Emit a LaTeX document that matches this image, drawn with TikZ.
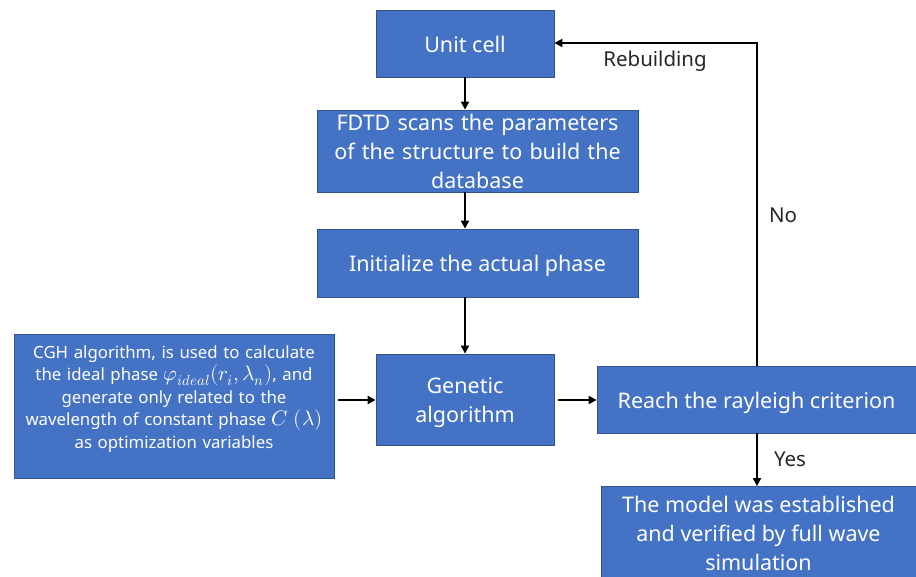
\documentclass[tikz,border=0pt]{standalone}
\usepackage{unicode-math}
\setmainfont{Noto Sans}
\setmathfont[Scale=1.25]{Latin Modern Math}
\usetikzlibrary{arrows.meta}
\newcommand{\lowertext}[2][3pt]{\raisebox{-#1}[\height][\depth]{\begin{tabular}{@{}c@{}}#2\end{tabular}}}
\begin{document}
\begin{tikzpicture}[x=1pt,y=-1pt,
  box/.style={draw=boxborder,line width=0.8pt,fill=boxfill,text=white,align=center,inner sep=2pt,
    font=\fontsize{21.5}{29}\selectfont},
  conn/.style={line width=2.6pt,-{Triangle[length=8pt,width=8pt]}},
  lbl/.style={text=black!85,font=\fontsize{20.5}{24}\selectfont}]
\definecolor{boxfill}{HTML}{4472C4}
\definecolor{boxborder}{HTML}{2F528F}
\useasboundingbox (0,0) rectangle (916,576);
\begin{scope}
\clip (0,0) rectangle (916,576);
\node[box,minimum width=178pt,minimum height=67pt] (unit) at (465,43.5) {\lowertext[3.5pt]{Unit cell}};
\node[box,minimum width=321pt,minimum height=82pt,text width=315pt] (fdtd) at (477.5,151) {FDTD scans the parameters\\of the structure to build the\\database};
\node[box,minimum width=321pt,minimum height=68pt] (init) at (477.5,263) {\lowertext{Initialize the actual phase}};
\node[box,minimum width=320pt,minimum height=144pt,text width=316pt,font=\fontsize{16.8}{22.5}\selectfont] (cgh) at (174,406) {CGH algorithm, is used to calculate\\the ideal phase $\varphi_{ideal}(r_i,\lambda_n)$, and\\generate only related to the\\wavelength of constant phase $C\ (\lambda)$\\as optimization variables\\[-4pt]\mbox{}};
\node[box,minimum width=178pt,minimum height=91pt] (gen) at (465,399.5) {\lowertext{Genetic\\algorithm}};
\node[box,minimum width=319pt,minimum height=67pt] (reach) at (756.5,399.5) {\lowertext{Reach the rayleigh criterion}};
\node[box,minimum width=315pt,minimum height=91pt] (model) at (758.5,532) {\lowertext[3.5pt]{The model was established\\and verified by full wave\\simulation}};
\end{scope}
\coordinate (cghout) at (338,400);
\coordinate (genout) at (558,400);
\coordinate (top) at (757,43);
\draw[conn] (unit.south) -- (unit.south |- fdtd.north);
\draw[conn] (unit.south |- fdtd.south) -- (unit.south |- init.north);
\draw[conn] (unit.south |- init.south) -- (gen.north);
\draw[conn] (cghout) -- (gen.west |- cghout);
\draw[conn] (genout) -- (reach.west |- genout);
\draw[conn] (reach.south -| top) -- (model.north -| top);
\draw[conn] (reach.north -| top) -- (top) -- (unit.east |- top);
\node[lbl] (rebuild) at (655,61) {Rebuilding};
\node[lbl] (no) at (783,215) {No};
\node[lbl] (yes) at (790,459) {Yes};
\end{tikzpicture}
\end{document}
